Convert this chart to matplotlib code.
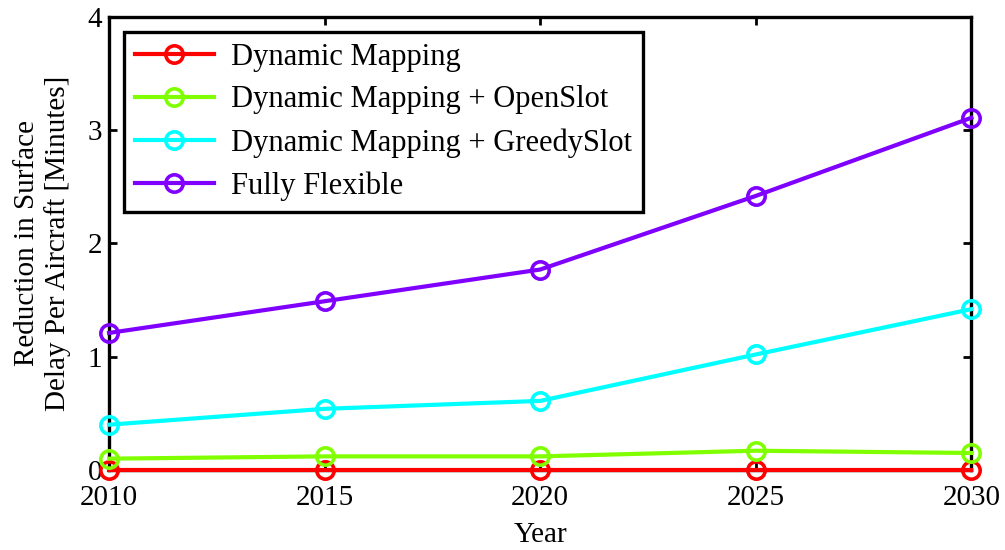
import matplotlib
matplotlib.use("Agg")
import matplotlib.pyplot as plt
import matplotlib as mpl

mpl.rcParams.update({
    "font.family":      ["Liberation Serif", "DejaVu Serif"],
    "font.size":        21,
    "xtick.direction":  "in",
    "ytick.direction":  "in",
    "xtick.top":        True,
    "ytick.right":      True,
    "xtick.major.size": 6,
    "ytick.major.size": 6,
    "xtick.major.width": 2,
    "ytick.major.width": 2,
    "axes.linewidth":   2.4,
})

years = [2010, 2015, 2020, 2025, 2030]
dyn_map = [0.0, 0.0, 0.0, 0.0, 0.0]
open_slot = [0.10, 0.12, 0.12, 0.17, 0.15]
greedy_slot = [0.40, 0.54, 0.61, 1.02, 1.42]
fully_flex = [1.21, 1.49, 1.77, 2.42, 3.11]

# (values, color, label)
SERIES = [
    (dyn_map,     "#ff0000", "Dynamic Mapping"),
    (open_slot,   "#80ff00", "Dynamic Mapping + OpenSlot"),
    (greedy_slot, "#00ffff", "Dynamic Mapping + GreedySlot"),
    (fully_flex,  "#8000ff", "Fully Flexible"),
]

fig = plt.figure(figsize=(10.05, 5.5), dpi=100)
ax = fig.add_axes([0.1085, 0.1455, 0.858, 0.8236])

for vals, color, label in SERIES:
    ax.plot(years, vals, color=color, linewidth=3.0, marker="o",
            markersize=12.5, markerfacecolor="none", markeredgewidth=2.6,
            label=label, clip_on=False, zorder=3)

ax.set_xlim(2010, 2030)
ax.set_ylim(0, 4)
ax.set_xticks(years)
ax.set_yticks([0, 1, 2, 3, 4])
ax.tick_params(axis="x", pad=11)
ax.tick_params(axis="y", pad=5)
ax.set_xlabel("Year", labelpad=8)
ax.set_ylabel("Reduction in Surface\nDelay Per Aircraft [Minutes]",
              labelpad=12, linespacing=1.2)

leg = ax.legend(loc="upper left", bbox_to_anchor=(0.0174, 0.967),
                borderaxespad=0, fancybox=False, handlelength=2.6,
                handletextpad=0.55, labelspacing=0.45, borderpad=0.35,
                fontsize=22)
leg.get_frame().set_edgecolor("black")
leg.get_frame().set_linewidth(2.4)
leg.get_frame().set_alpha(1)

fig.savefig("out.png", dpi=100)
